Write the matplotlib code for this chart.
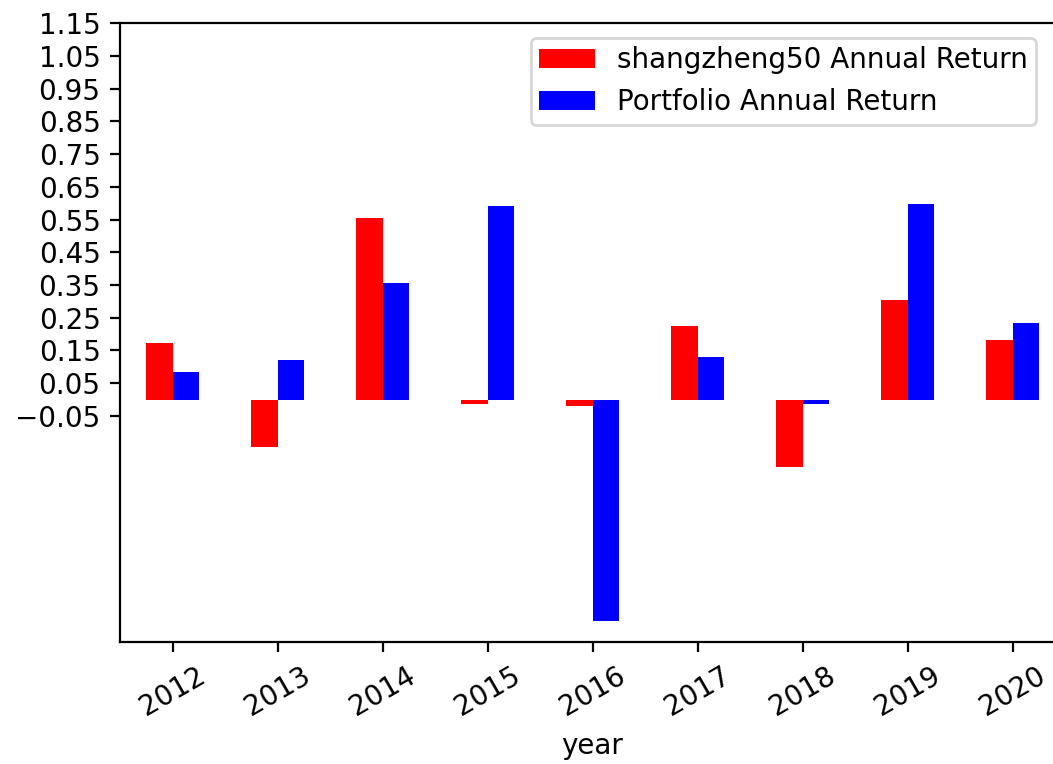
import numpy as np
import matplotlib
matplotlib.use("Agg")
import matplotlib.pyplot as plt

years = ["2012", "2013", "2014", "2015", "2016", "2017", "2018", "2019", "2020"]
shangzheng50 = [0.172, -0.145, 0.554, -0.013, -0.021, 0.224, -0.206, 0.305, 0.182]
portfolio = [0.085, 0.121, 0.355, 0.591, -0.676, 0.129, -0.013, 0.598, 0.233]
ytick_vals = [round(-0.05 + 0.1 * i, 2) for i in range(13)]

W, H, DPI = 1053, 764, 200
fig = plt.figure(figsize=(W / DPI, H / DPI), dpi=DPI)
left, right, top, bottom = 120, 1065, 23.3, 641.7
ax = fig.add_axes([left / W, 1 - bottom / H, (right - left) / W, (bottom - top) / H])

x = np.arange(len(years))
w = 0.25
ax.bar(x - w / 2, shangzheng50, w, color="red", label="shangzheng50 Annual Return")
ax.bar(x + w / 2, portfolio, w, color="blue", label="Portfolio Annual Return")

ax.set_xlim(-0.5, len(years) - 0.5)
ax.set_ylim(-0.74, 1.15)
ax.set_yticks(ytick_vals)
ax.set_yticklabels([f"{v:.2f}".replace("-", "\u2212") for v in ytick_vals])
ax.set_xticks(x)
ax.set_xticklabels(years, rotation=30)
ax.set_xlabel("year")

ax.legend(loc="upper right", bbox_to_anchor=(1036 / W, 1 - 38 / H),
          bbox_transform=fig.transFigure, borderaxespad=0, borderpad=0.3)

fig.savefig("out.png", dpi=DPI)
